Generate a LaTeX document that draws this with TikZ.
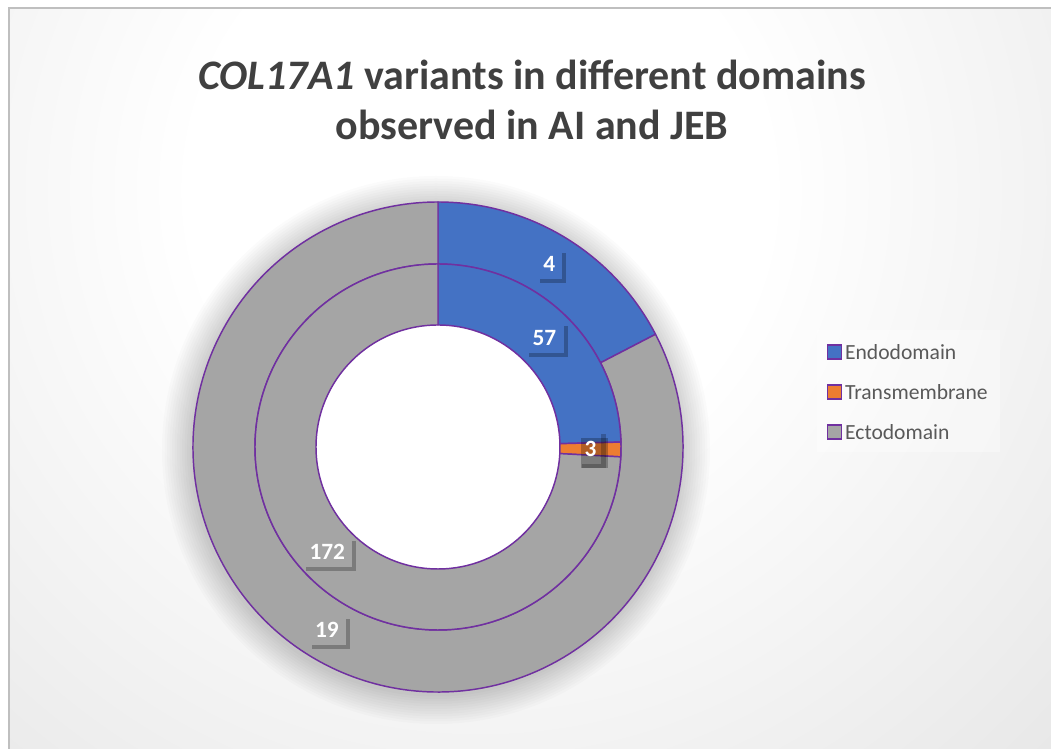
\documentclass[tikz,border=0pt]{standalone}
\usepackage{fontspec}
\setmainfont{Carlito}
\usetikzlibrary{positioning,shadows}

\definecolor{endo}{HTML}{4472C4}
\definecolor{trans}{HTML}{ED7D31}
\definecolor{ecto}{HTML}{A5A5A5}
\definecolor{edge}{HTML}{7030A0}
\definecolor{titlegray}{HTML}{404040}
\definecolor{legtextgray}{HTML}{595959}
\definecolor{bgedge}{HTML}{C4C4C4}
\definecolor{framegray}{HTML}{BFBFBF}

\pgfdeclareradialshading{chartbg}{\pgfpoint{0bp}{0bp}}{color(0bp)=(white); color(9bp)=(white); color(50bp)=(bgedge)}

% ring piece: fill colour, inner radius, outer radius, start angle, end angle
\newcommand{\ringpart}[5]{%
  \filldraw[fill=#1, ringedge] (#4:#3) arc[start angle=#4, end angle=#5, radius=#3]
    -- (#5:#2) arc[start angle=#5, end angle=#4, radius=#2] -- cycle;}

\begin{document}
\begin{tikzpicture}[x=0.75pt, y=0.75pt]
	\tikzstyle{ringedge} = [draw=edge, line width=1.1pt, line join=round]
	\tikzstyle{vallabel} = [text=white, font=\fontsize{17.5}{20}\selectfont\bfseries, inner xsep=5.5pt, minimum height=23pt, drop shadow={shadow xshift=3pt, shadow yshift=-3pt, opacity=.25, fill=black}]
	\tikzstyle{legkey} = [draw=edge, line width=1pt, minimum size=10.5pt, inner sep=0pt]
	\tikzstyle{legtext} = [text=legtextgray, font=\fontsize{16.2}{19}\selectfont, inner sep=0pt]
	\useasboundingbox (0,0) rectangle (1051,749);
	% background
	\fill[white] (0,0) rectangle (1051,749);
	\begin{scope}
		\clip (9,0) rectangle (1051,741);
		\shade[shading=chartbg] (480,559) circle (800);
	\end{scope}
	\draw[framegray, line width=0.8pt] (9,-10) rectangle (1070,741);
	% title
	\node[align=center, text=titlegray, font=\fontsize{31.5}{37.5}\selectfont\bfseries] (title) at (532,649) {\textit{COL17A1} variants in different domains\\observed in AI and JEB};
	% doughnut
	\begin{scope}[shift={(438,302)}]
		\foreach \i in {1,...,12}
			\fill[black, opacity=0.017] (-2,-3) circle (244+2.5*\i);
		\fill[white] (0,0) circle (122);
		% outer ring
		\ringpart{endo}{183}{245}{90}{27.39}
		\ringpart{ecto}{183}{245}{27.39}{-270}
		% inner ring
		\ringpart{endo}{122}{183}{90}{1.55}
		\ringpart{trans}{122}{183}{1.55}{-3.10}
		\ringpart{ecto}{122}{183}{-3.10}{-270}
		% values
		\node[vallabel, fill=endo] (outerendo) at (58.7:214) {4};
		\node[vallabel, fill=endo] (innerendo) at (45.78:152.5) {57};
		\fill[black, opacity=.22] (-0.78:152.5) ++(11,-19) rectangle ++(5,34);
		\fill[black, opacity=.22] (-0.78:152.5) ++(-8,-15) rectangle ++(19,-4);
		\node[vallabel, drop shadow={opacity=0}] (innertrans) at (-0.78:152.5) {3};
		\node[vallabel, fill=ecto] (innerecto) at (-136.55:152.5) {172};
		\node[vallabel, fill=ecto] (outerecto) at (-121.3:214) {19};
	\end{scope}
	% legend
	\node[fill=white, fill opacity=0.35, minimum width=137pt, minimum height=91.5pt, inner sep=0pt] (legend) at (908.5,358) {};
	\node[legkey, fill=endo] (keyendo) at (834.5,397) {};
	\node[legkey, fill=trans] (keytrans) at (834.5,357) {};
	\node[legkey, fill=ecto] (keyecto) at (834.5,317) {};
	\node[legtext, right=2pt of keyendo] (txtendo) {Endodomain};
	\node[legtext, right=2pt of keytrans] (txttrans) {Transmembrane};
	\node[legtext, right=2pt of keyecto] (txtecto) {Ectodomain};
\end{tikzpicture}
\end{document}
